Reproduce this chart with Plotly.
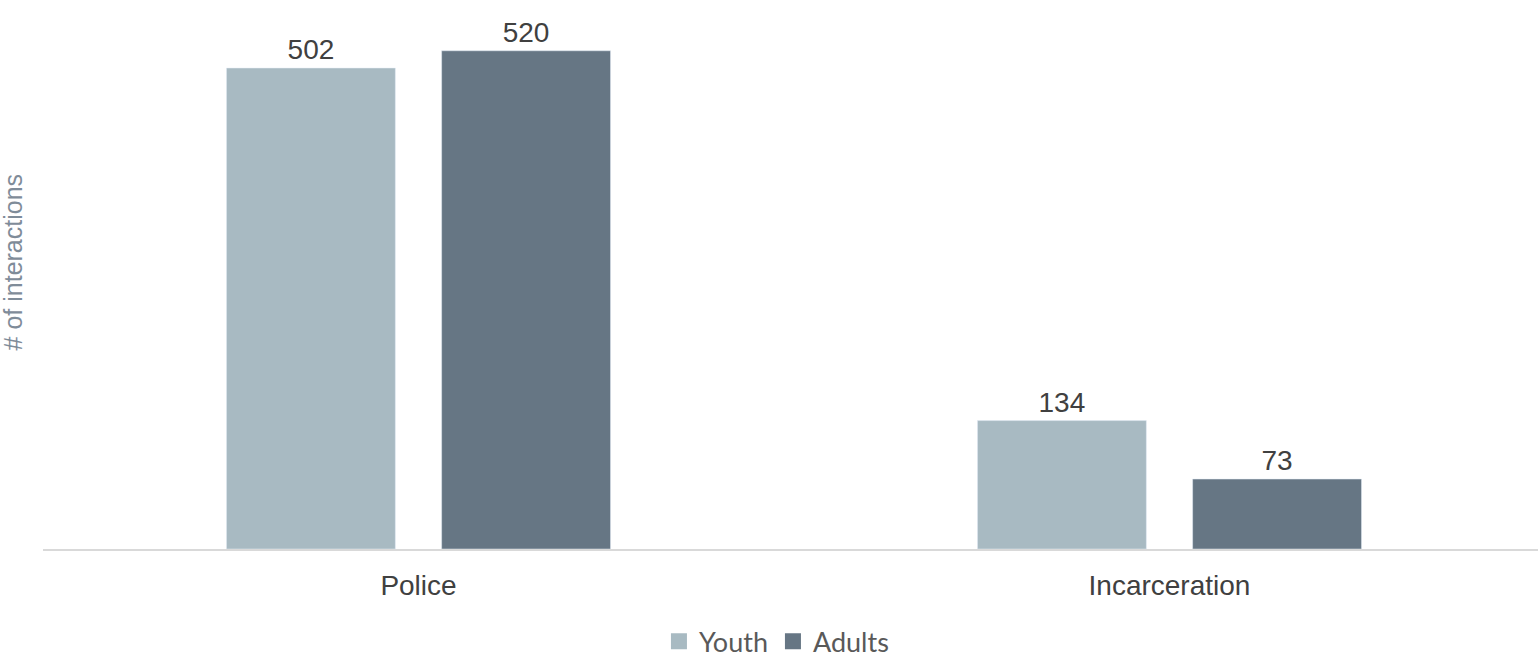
import plotly.graph_objects as go

categories = ["Police", "Incarceration"]
youth = [502, 134]
adults = [520, 73]
series_names = ["Youth", "Adults"]
series_colors = ["#A8BAC2", "#667684"]

label_font = dict(family="Liberation Sans, Arial", size=28, color="#404040")

fig = go.Figure()
for name, vals, col in zip(series_names, [youth, adults], series_colors):
    fig.add_trace(go.Bar(name=name, x=categories, y=vals, marker_color=col,
                         text=vals, textposition="outside", cliponaxis=False,
                         textfont=label_font, showlegend=False))
# legend entries with larger square swatches
for name, col in zip(series_names, series_colors):
    fig.add_trace(go.Scatter(name=name, x=[None], y=[None], mode="markers",
                             marker=dict(symbol="square", size=17, color=col),
                             showlegend=True))

fig.update_layout(
    width=1538, height=657,
    margin=dict(l=43, r=0, t=0, b=108, autoexpand=False),
    plot_bgcolor="white", paper_bgcolor="white",
    barmode="group", bargap=0.427, bargroupgap=0.215,
    font=dict(family="Liberation Sans, Arial", color="#404040"),
    showlegend=True,
    legend=dict(orientation="h", x=0.4906, xanchor="center", y=-0.169, yanchor="middle",
                font=dict(family="Lato, Carlito, sans-serif", size=27, color="#595959"),
                itemsizing="trace", traceorder="normal", itemwidth=30),
    xaxis=dict(showline=True, linecolor="#D9D9D9", linewidth=2, automargin=False,
               range=[-0.5, 1.4907],
               ticks="outside", ticklen=10, tickcolor="rgba(0,0,0,0)",
               tickfont=label_font),
    yaxis=dict(range=[0, 573], showgrid=False, showticklabels=False, zeroline=False,
               showline=False, automargin=False),
    annotations=[dict(text="# of interactions", xref="paper", yref="paper",
                      x=-(43 - 13) / 1495, y=0.522, xanchor="center", yanchor="middle",
                      textangle=-90, showarrow=False,
                      font=dict(family="Liberation Sans, Arial", size=25, color="#7F8C99"))],
)

fig.write_html("out.html")
